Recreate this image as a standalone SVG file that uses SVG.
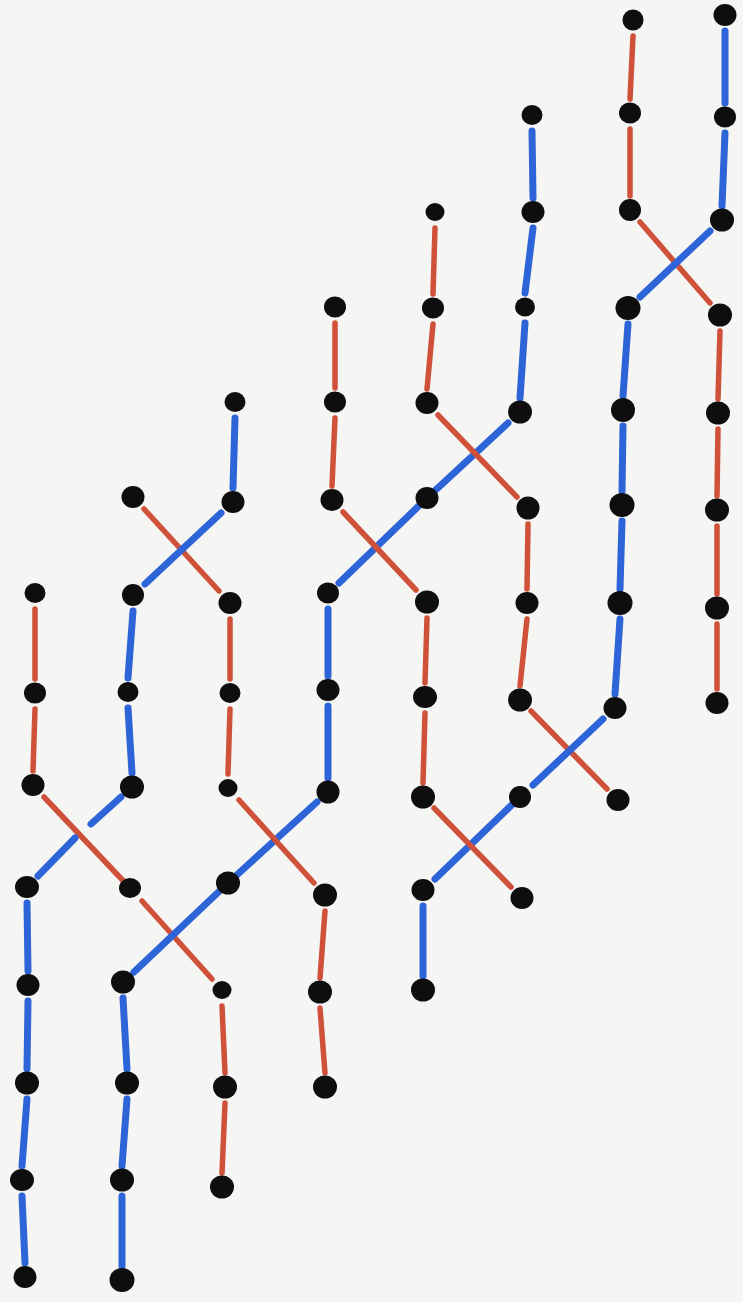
<svg xmlns="http://www.w3.org/2000/svg" width="743" height="1302" viewBox="0 0 743 1302">
<style>
.b{stroke:#2d64d8;stroke-width:7;stroke-linecap:round;fill:none}
.r{stroke:#cf513a;stroke-width:5.5;stroke-linecap:round;fill:none}
.n ellipse{fill:#0e0e0e}
</style>
<rect width="743" height="1302" fill="#f5f5f3"/>
<g id="connectors">
<line class="r" x1="633" y1="36" x2="630" y2="99"/>
<line class="r" x1="630" y1="129" x2="630" y2="196"/>
<line class="b" x1="725" y1="31" x2="725" y2="103"/>
<line class="b" x1="725" y1="133" x2="722" y2="206"/>
<line class="r" x1="640" y1="222" x2="710" y2="303"/>
<line class="b" x1="710" y1="231" x2="640" y2="297"/>
<line class="b" x1="628" y1="324" x2="623" y2="396"/>
<line class="b" x1="623" y1="426" x2="622" y2="491"/>
<line class="b" x1="622" y1="521" x2="620" y2="589"/>
<line class="b" x1="620" y1="619" x2="615" y2="694"/>
<line class="r" x1="720" y1="331" x2="718" y2="399"/>
<line class="r" x1="718" y1="429" x2="717" y2="496"/>
<line class="r" x1="717" y1="526" x2="717" y2="594"/>
<line class="r" x1="717" y1="624" x2="717" y2="689"/>
<line class="b" x1="532" y1="131" x2="533" y2="198"/>
<line class="b" x1="533" y1="228" x2="525" y2="293"/>
<line class="b" x1="525" y1="323" x2="520" y2="398"/>
<line class="r" x1="435" y1="228" x2="433" y2="294"/>
<line class="r" x1="433" y1="324" x2="427" y2="389"/>
<polyline class="b" points="508,423 427,498 339,583"/>
<line class="r" x1="438" y1="415" x2="517" y2="497"/>
<line class="r" x1="528" y1="524" x2="527" y2="589"/>
<line class="r" x1="527" y1="619" x2="520" y2="686"/>
<line class="r" x1="335" y1="323" x2="335" y2="388"/>
<line class="r" x1="335" y1="418" x2="332" y2="486"/>
<line class="r" x1="343" y1="512" x2="416" y2="590"/>
<line class="r" x1="427" y1="618" x2="425" y2="683"/>
<line class="r" x1="425" y1="713" x2="423" y2="783"/>
<line class="b" x1="328" y1="609" x2="328" y2="676"/>
<line class="b" x1="328" y1="706" x2="328" y2="778"/>
<line class="r" x1="531" y1="711" x2="607" y2="789"/>
<line class="b" x1="603" y1="719" x2="533" y2="785"/>
<line class="b" x1="520" y1="797" x2="435" y2="879"/>
<line class="r" x1="434" y1="808" x2="511" y2="887"/>
<line class="b" x1="423" y1="906" x2="423" y2="976"/>
<line class="b" x1="235" y1="418" x2="233" y2="488"/>
<line class="r" x1="144" y1="509" x2="219" y2="591"/>
<line class="b" x1="221" y1="513" x2="145" y2="584"/>
<line class="b" x1="133" y1="611" x2="128" y2="678"/>
<line class="b" x1="128" y1="708" x2="132" y2="773"/>
<line class="r" x1="230" y1="619" x2="230" y2="679"/>
<line class="r" x1="230" y1="709" x2="228" y2="774"/>
<line class="r" x1="35" y1="609" x2="35" y2="679"/>
<line class="r" x1="35" y1="709" x2="33" y2="771"/>
<line class="r" x1="44" y1="797" x2="130" y2="888"/>
<line class="r" x1="142" y1="901" x2="212" y2="979"/>
<line class="b" x1="121" y1="797" x2="91" y2="824"/>
<line class="b" x1="75" y1="838" x2="38" y2="876"/>
<polyline class="b" points="317,802 228,883 134,972"/>
<line class="r" x1="239" y1="800" x2="314" y2="883"/>
<line class="b" x1="27" y1="903" x2="28" y2="971"/>
<line class="b" x1="28" y1="1001" x2="27" y2="1069"/>
<line class="b" x1="27" y1="1099" x2="22" y2="1166"/>
<line class="b" x1="22" y1="1196" x2="25" y2="1263"/>
<line class="b" x1="123" y1="998" x2="127" y2="1069"/>
<line class="b" x1="127" y1="1099" x2="122" y2="1166"/>
<line class="b" x1="122" y1="1196" x2="122" y2="1266"/>
<line class="r" x1="222" y1="1006" x2="225" y2="1073"/>
<line class="r" x1="225" y1="1103" x2="222" y2="1173"/>
<line class="r" x1="325" y1="911" x2="320" y2="978"/>
<line class="r" x1="320" y1="1008" x2="325" y2="1073"/>
</g>
<g id="a1" class="n"><ellipse cx="35" cy="593" rx="10.5" ry="10"/></g>
<g id="a2" class="n"><ellipse cx="35" cy="693" rx="11" ry="10.5"/></g>
<g id="a3" class="n"><ellipse cx="33" cy="785" rx="11.5" ry="11"/></g>
<g id="a4" class="n"><ellipse cx="27" cy="887" rx="12" ry="11"/></g>
<g id="a5" class="n"><ellipse cx="28" cy="985" rx="11.5" ry="11"/></g>
<g id="a6" class="n"><ellipse cx="27" cy="1083" rx="12" ry="11.5"/></g>
<g id="a7" class="n"><ellipse cx="22" cy="1180" rx="12" ry="11"/></g>
<g id="a8" class="n"><ellipse cx="25" cy="1277" rx="11.5" ry="11"/></g>
<g id="b1" class="n"><ellipse cx="133" cy="497" rx="11.5" ry="11"/></g>
<g id="b2" class="n"><ellipse cx="133" cy="595" rx="11" ry="11"/></g>
<g id="b3" class="n"><ellipse cx="128" cy="692" rx="10.5" ry="10"/></g>
<g id="b4" class="n"><ellipse cx="132" cy="787" rx="12" ry="11.5"/></g>
<g id="b5" class="n"><ellipse cx="130" cy="888" rx="11" ry="10"/></g>
<g id="b6" class="n"><ellipse cx="123" cy="982" rx="12" ry="11.5"/></g>
<g id="b7" class="n"><ellipse cx="127" cy="1083" rx="12" ry="11.5"/></g>
<g id="b8" class="n"><ellipse cx="122" cy="1180" rx="12" ry="11.5"/></g>
<g id="b9" class="n"><ellipse cx="122" cy="1280" rx="12.5" ry="12"/></g>
<g id="c1" class="n"><ellipse cx="235" cy="402" rx="10.5" ry="10"/></g>
<g id="c2" class="n"><ellipse cx="233" cy="502" rx="11.5" ry="11"/></g>
<g id="c3" class="n"><ellipse cx="230" cy="603" rx="11.5" ry="11"/></g>
<g id="c4" class="n"><ellipse cx="230" cy="693" rx="10.5" ry="10"/></g>
<g id="c5" class="n"><ellipse cx="228" cy="788" rx="9.5" ry="9"/></g>
<g id="c6" class="n"><ellipse cx="228" cy="883" rx="12" ry="11.5"/></g>
<g id="c7" class="n"><ellipse cx="222" cy="990" rx="9.5" ry="9"/></g>
<g id="c8" class="n"><ellipse cx="225" cy="1087" rx="12" ry="11.5"/></g>
<g id="c9" class="n"><ellipse cx="222" cy="1187" rx="12" ry="11.5"/></g>
<g id="d1" class="n"><ellipse cx="335" cy="307" rx="11" ry="10.5"/></g>
<g id="d2" class="n"><ellipse cx="335" cy="402" rx="11" ry="10.5"/></g>
<g id="d3" class="n"><ellipse cx="332" cy="500" rx="11.5" ry="11"/></g>
<g id="d4" class="n"><ellipse cx="328" cy="593" rx="11" ry="10.5"/></g>
<g id="d5" class="n"><ellipse cx="328" cy="690" rx="11.5" ry="11"/></g>
<g id="d6" class="n"><ellipse cx="328" cy="792" rx="11.5" ry="11.5"/></g>
<g id="d7" class="n"><ellipse cx="325" cy="895" rx="12" ry="11.5"/></g>
<g id="d8" class="n"><ellipse cx="320" cy="992" rx="12" ry="11.5"/></g>
<g id="d9" class="n"><ellipse cx="325" cy="1087" rx="12" ry="11.5"/></g>
<g id="e1" class="n"><ellipse cx="435" cy="212" rx="9.5" ry="9"/></g>
<g id="e2" class="n"><ellipse cx="433" cy="308" rx="11" ry="10.5"/></g>
<g id="e3" class="n"><ellipse cx="427" cy="403" rx="11.5" ry="11"/></g>
<g id="e4" class="n"><ellipse cx="427" cy="498" rx="11.5" ry="11"/></g>
<g id="e5" class="n"><ellipse cx="427" cy="602" rx="12" ry="11.5"/></g>
<g id="e6" class="n"><ellipse cx="425" cy="697" rx="12" ry="11"/></g>
<g id="e7" class="n"><ellipse cx="423" cy="797" rx="12" ry="11.5"/></g>
<g id="e8" class="n"><ellipse cx="423" cy="890" rx="11.5" ry="11"/></g>
<g id="e9" class="n"><ellipse cx="423" cy="990" rx="12" ry="11.5"/></g>
<g id="f1" class="n"><ellipse cx="532" cy="115" rx="10.5" ry="10"/></g>
<g id="f2" class="n"><ellipse cx="533" cy="212" rx="11.5" ry="11"/></g>
<g id="f3" class="n"><ellipse cx="525" cy="307" rx="10" ry="9.5"/></g>
<g id="f4" class="n"><ellipse cx="520" cy="412" rx="12" ry="11.5"/></g>
<g id="f5" class="n"><ellipse cx="528" cy="508" rx="11.5" ry="11.5"/></g>
<g id="f6" class="n"><ellipse cx="527" cy="603" rx="11.5" ry="11"/></g>
<g id="f7" class="n"><ellipse cx="520" cy="700" rx="12" ry="11.5"/></g>
<g id="f8" class="n"><ellipse cx="520" cy="797" rx="11" ry="11"/></g>
<g id="f9" class="n"><ellipse cx="522" cy="898" rx="11.5" ry="11"/></g>
<g id="g1" class="n"><ellipse cx="633" cy="20" rx="10.5" ry="10.5"/></g>
<g id="g2" class="n"><ellipse cx="630" cy="113" rx="11" ry="10.5"/></g>
<g id="g3" class="n"><ellipse cx="630" cy="210" rx="11" ry="11"/></g>
<g id="g4" class="n"><ellipse cx="628" cy="308" rx="12.5" ry="12"/></g>
<g id="g5" class="n"><ellipse cx="623" cy="410" rx="12" ry="12"/></g>
<g id="g6" class="n"><ellipse cx="622" cy="505" rx="12.5" ry="12"/></g>
<g id="g7" class="n"><ellipse cx="620" cy="603" rx="12.5" ry="12"/></g>
<g id="g8" class="n"><ellipse cx="615" cy="708" rx="11.5" ry="11"/></g>
<g id="g9" class="n"><ellipse cx="618" cy="800" rx="11.5" ry="11"/></g>
<g id="h1" class="n"><ellipse cx="725" cy="15" rx="11.5" ry="11"/></g>
<g id="h2" class="n"><ellipse cx="725" cy="117" rx="11" ry="10.5"/></g>
<g id="h3" class="n"><ellipse cx="722" cy="220" rx="12" ry="11.5"/></g>
<g id="h4" class="n"><ellipse cx="720" cy="315" rx="12" ry="11.5"/></g>
<g id="h5" class="n"><ellipse cx="718" cy="413" rx="12" ry="11.5"/></g>
<g id="h6" class="n"><ellipse cx="717" cy="510" rx="12" ry="11.5"/></g>
<g id="h7" class="n"><ellipse cx="717" cy="608" rx="12" ry="11.5"/></g>
<g id="h8" class="n"><ellipse cx="717" cy="703" rx="11.5" ry="11"/></g>
</svg>
